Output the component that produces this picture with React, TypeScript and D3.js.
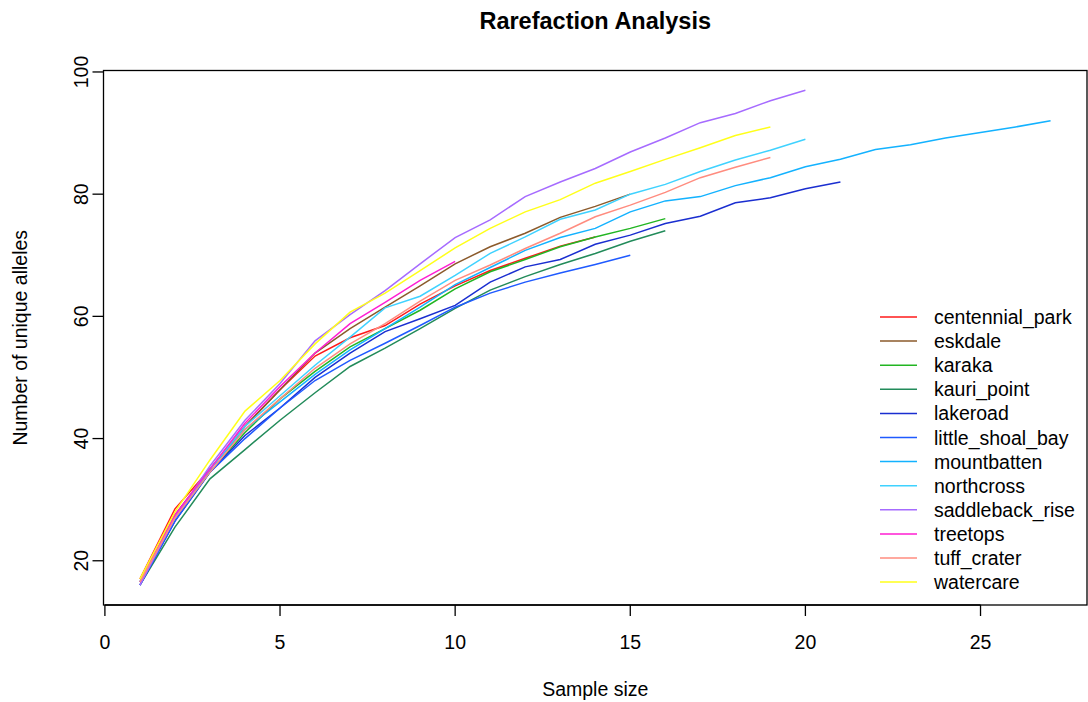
import React from "react";
import * as d3 from "d3";

const sites = [
  "centennial_park", "eskdale", "karaka", "kauri_point", "lakeroad", "little_shoal_bay",
  "mountbatten", "northcross", "saddleback_rise", "treetops", "tuff_crater", "watercare",
];
const siteColors = [
  "#FF1A1A", "#8B5A2B", "#22B522", "#228B5A", "#1A2ED0", "#1F5AFF",
  "#13B2FF", "#3FD2FF", "#A66BFF", "#FF1ED2", "#FF8C7F", "#FFFF1A",
];

const centennialPark = [17, 28.5, 35, 42, 48, 53.5, 56.5, 58.5, 62, 65, 67.5, 69.5, 71.5, 73];
const eskdale = [16.5, 27.5, 35, 42, 48, 54, 58, 61.5, 65, 68.6, 71.4, 73.6, 76.2, 78, 80];
const karaka = [16.5, 27, 34.5, 41, 46.5, 51, 55, 58, 61, 64.5, 67.3, 69.3, 71.4, 73, 74.4, 76];
const kauriPoint = [16, 25.5, 33.4, 38.2, 43, 47.5, 51.8, 54.8, 58, 61.3, 64.3, 66.5, 68.5, 70.3, 72.3, 74];
const lakeroad = [16, 26.5, 34.5, 40.5, 45, 50, 54, 57.5, 59.6, 61.8, 65.6, 68.1, 69.3, 71.8, 73.3, 75.2, 76.4, 78.6, 79.4, 80.9, 82];
const littleShoalBay = [16, 26.5, 34.5, 40, 45, 49.5, 52.8, 55.6, 58.5, 61.5, 63.8, 65.6, 67.1, 68.5, 70];
const mountbatten = [16.5, 27, 35, 41.5, 46, 50.5, 54.5, 58, 61.5, 65.2, 68, 70.8, 72.9, 74.4, 77.1, 78.9, 79.6, 81.4, 82.7, 84.5, 85.7, 87.3, 88.1, 89.2, 90.1, 91, 92];
const northcross = [16.5, 27, 35, 42, 47, 52, 56.6, 61.4, 63.3, 66.7, 70.3, 73, 75.9, 77.4, 80, 81.6, 83.7, 85.6, 87.2, 89];
const saddlebackRise = [16, 27, 35.5, 43, 49, 56, 60.3, 64.2, 68.6, 72.9, 75.8, 79.6, 82, 84.2, 86.9, 89.2, 91.7, 93.2, 95.3, 97];
const treetops = [16.5, 27.5, 35, 42.5, 48.5, 54, 58.8, 62.3, 65.9, 69];
const tuffCrater = [16.5, 27, 34.5, 41.5, 46.5, 51.5, 55.5, 58.8, 62.5, 65.9, 68.4, 71.1, 73.6, 76.3, 78.2, 80.3, 82.7, 84.4, 86];
const watercare = [17, 28, 36.5, 44.5, 49.5, 55.5, 60.7, 63.8, 67.5, 71.2, 74.4, 77.1, 79.1, 81.8, 83.7, 85.7, 87.6, 89.6, 91];

const seriesValues = [
  centennialPark, eskdale, karaka, kauriPoint, lakeroad, littleShoalBay,
  mountbatten, northcross, saddlebackRise, treetops, tuffCrater, watercare,
];

const xTicks = [0, 5, 10, 15, 20, 25];
const yTicks = [20, 40, 60, 80, 100];

const W = 1088;
const H = 702;
const L = 103.5, R = 1087, T = 70.5, B = 605;
const FONT = "'Liberation Sans', Arial, Helvetica, sans-serif";

export default function App() {
  const x = d3.scaleLinear().domain([-0.04, 28.04]).range([L, R]);
  const y = d3.scaleLinear().domain([12.76, 100.24]).range([B, T]);
  const line = d3
    .line<number>()
    .x((_, i) => x(i + 1))
    .y((d) => y(d));

  const legX = 880;
  const legY0 = 317;
  const legStep = 24.1;

  return (
    <svg
      width={W}
      height={H}
      style={{ position: "absolute", left: 0, top: 0, background: "#fff" }}
      fontFamily={FONT}
    >
      <rect x={0} y={0} width={W} height={H} fill="#fff" />
      <text x={(L + R) / 2} y={29} textAnchor="middle" fontSize={23.5} fontWeight="bold" fill="#000">
        Rarefaction Analysis
      </text>
      {seriesValues.map((vals, i) => (
        <path key={sites[i]} d={line(vals) || ""} fill="none" stroke={siteColors[i]} strokeWidth={1.5} />
      ))}
      <rect x={L} y={T} width={R - L} height={B - T} fill="none" stroke="#000" strokeWidth={1.3} />
      {/* x axis */}
      <line x1={x(0)} x2={x(25)} y1={B} y2={B} stroke="#000" strokeWidth={1.3} />
      {xTicks.map((t) => (
        <g key={"x" + t}>
          <line x1={x(t)} x2={x(t)} y1={B} y2={B + 11} stroke="#000" strokeWidth={1.3} />
          <text x={x(t)} y={649} textAnchor="middle" fontSize={19.5} fill="#000">
            {t}
          </text>
        </g>
      ))}
      {/* y axis */}
      {yTicks.map((t) => (
        <g key={"y" + t}>
          <line x1={L - 11} x2={L} y1={y(t)} y2={y(t)} stroke="#000" strokeWidth={1.3} />
          <text
            transform={`translate(87.5, ${y(t)}) rotate(-90)`}
            textAnchor="middle"
            fontSize={19.5}
            fill="#000"
          >
            {t}
          </text>
        </g>
      ))}
      <text x={(L + R) / 2} y={696} textAnchor="middle" fontSize={19.5} fill="#000">
        Sample size
      </text>
      <text
        transform={`translate(27, ${(T + B) / 2}) rotate(-90)`}
        textAnchor="middle"
        fontSize={19.5}
        fill="#000"
      >
        Number of unique alleles
      </text>
      {/* legend */}
      {sites.map((s, i) => (
        <g key={"leg" + s}>
          <line
            x1={legX}
            x2={legX + 37}
            y1={legY0 + i * legStep}
            y2={legY0 + i * legStep}
            stroke={siteColors[i]}
            strokeWidth={1.5}
          />
          <text x={934} y={legY0 + i * legStep + 7} fontSize={19.5} fill="#000">
            {s}
          </text>
        </g>
      ))}
    </svg>
  );
}
